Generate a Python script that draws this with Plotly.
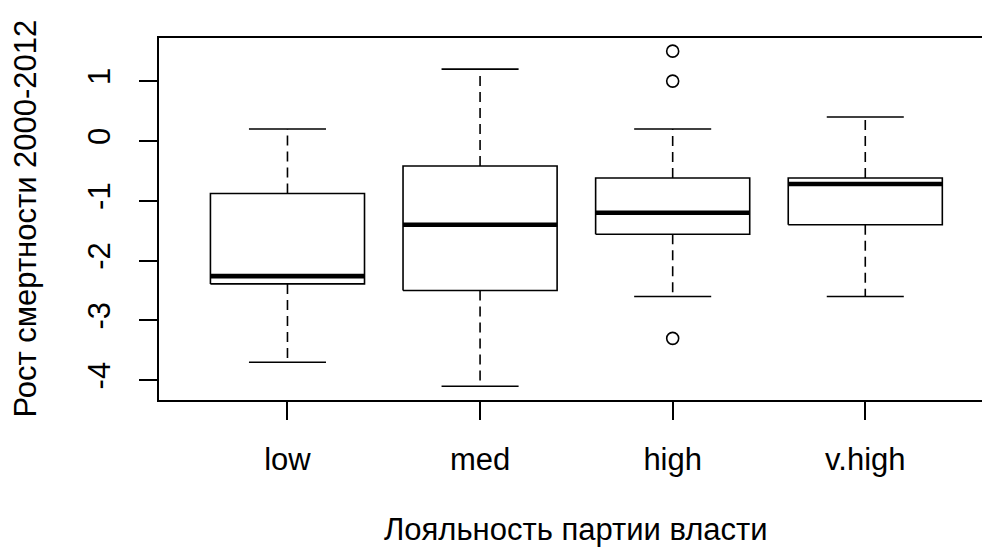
import plotly.graph_objects as go

# ---- data ----
categories = ["low", "med", "high", "v.high"]
lower_whisker = [-3.7, -4.1, -2.6, -2.6]
q1 = [-2.39, -2.5, -1.56, -1.4]
median = [-2.26, -1.4, -1.2, -0.72]
q3 = [-0.88, -0.42, -0.62, -0.62]
upper_whisker = [0.2, 1.2, 0.2, 0.4]
outlier_group = ["high", "high", "high"]
outlier_values = [1.5, 1.0, -3.3]
y_ticks = [-4, -3, -2, -1, 0, 1]

x_title = "Лояльность партии власти"
y_title = "Рост смертности 2000-2012"

# ---- geometry helpers (R boxplot defaults) ----
pos = list(range(1, len(categories) + 1))
half_box = 0.4    # boxwex 0.8
half_cap = 0.2    # staplewex 0.5

box_x, box_y = [], []
med_x, med_y = [], []
wh_x, wh_y = [], []
cap_x, cap_y = [], []
for p, lo, a, m, b, hi in zip(pos, lower_whisker, q1, median, q3, upper_whisker):
    box_x += [p - half_box, p + half_box, p + half_box, p - half_box, p - half_box, None]
    box_y += [a, a, b, b, a, None]
    med_x += [p - half_box, p + half_box, None]
    med_y += [m, m, None]
    wh_x += [p, p, None, p, p, None]
    wh_y += [b, hi, None, a, lo, None]
    cap_x += [p - half_cap, p + half_cap, None, p - half_cap, p + half_cap, None]
    cap_y += [hi, hi, None, lo, lo, None]

out_x = [pos[categories.index(g)] for g in outlier_group]

FONT = "Liberation Sans, Arial, sans-serif"
fig = go.Figure()
fig.add_trace(go.Scatter(x=wh_x, y=wh_y, mode="lines",
                         line=dict(color="black", width=1.6, dash="10px,6px")))
fig.add_trace(go.Scatter(x=cap_x, y=cap_y, mode="lines",
                         line=dict(color="black", width=1.6)))
fig.add_trace(go.Scatter(x=box_x, y=box_y, mode="lines", fill="toself",
                         fillcolor="white", line=dict(color="black", width=1.6)))
fig.add_trace(go.Scatter(x=med_x, y=med_y, mode="lines",
                         line=dict(color="black", width=4.6)))
fig.add_trace(go.Scatter(x=out_x, y=outlier_values, mode="markers",
                         marker=dict(symbol="circle-open", size=12, color="black",
                                     line=dict(width=1.6))))

fig.update_layout(
    width=982, height=552,
    margin=dict(l=159, r=0, t=38, b=152),
    paper_bgcolor="white", plot_bgcolor="white",
    showlegend=False,
    font=dict(family=FONT, size=31, color="black"),
    xaxis=dict(range=[0.333, 4.606], tickvals=pos, ticktext=categories,
               showgrid=False, zeroline=False, showline=True, mirror=True,
               linecolor="black", linewidth=1.6,
               ticks="outside", ticklen=18, tickwidth=1.6, tickcolor="black",
               ticklabelstandoff=13,
               tickfont=dict(family=FONT, size=31, color="black")),
    yaxis=dict(range=[-4.33, 1.72], tickvals=y_ticks,
               ticktext=[str(v) for v in y_ticks], tickangle=-90,
               showgrid=False, zeroline=False, showline=True, mirror=False,
               linecolor="black", linewidth=1.6,
               ticks="outside", ticklen=18, tickwidth=1.6, tickcolor="black",
               ticklabelstandoff=17,
               tickfont=dict(family=FONT, size=31, color="black")),
    annotations=[
        dict(text=x_title, xref="x", yref="paper", x=2.5, y=-0.305,
             xanchor="center", yanchor="top", showarrow=False,
             font=dict(family=FONT, size=31, color="black")),
        dict(text=y_title, xref="paper", yref="paper", x=-0.187, y=0.5,
             xanchor="left", yanchor="middle", textangle=-90, showarrow=False,
             font=dict(family=FONT, size=31, color="black")),
    ],
)

fig.write_html("out.html", config={"displayModeBar": False},
               post_script="document.body.style.margin='0px';document.body.style.overflow='hidden';")
